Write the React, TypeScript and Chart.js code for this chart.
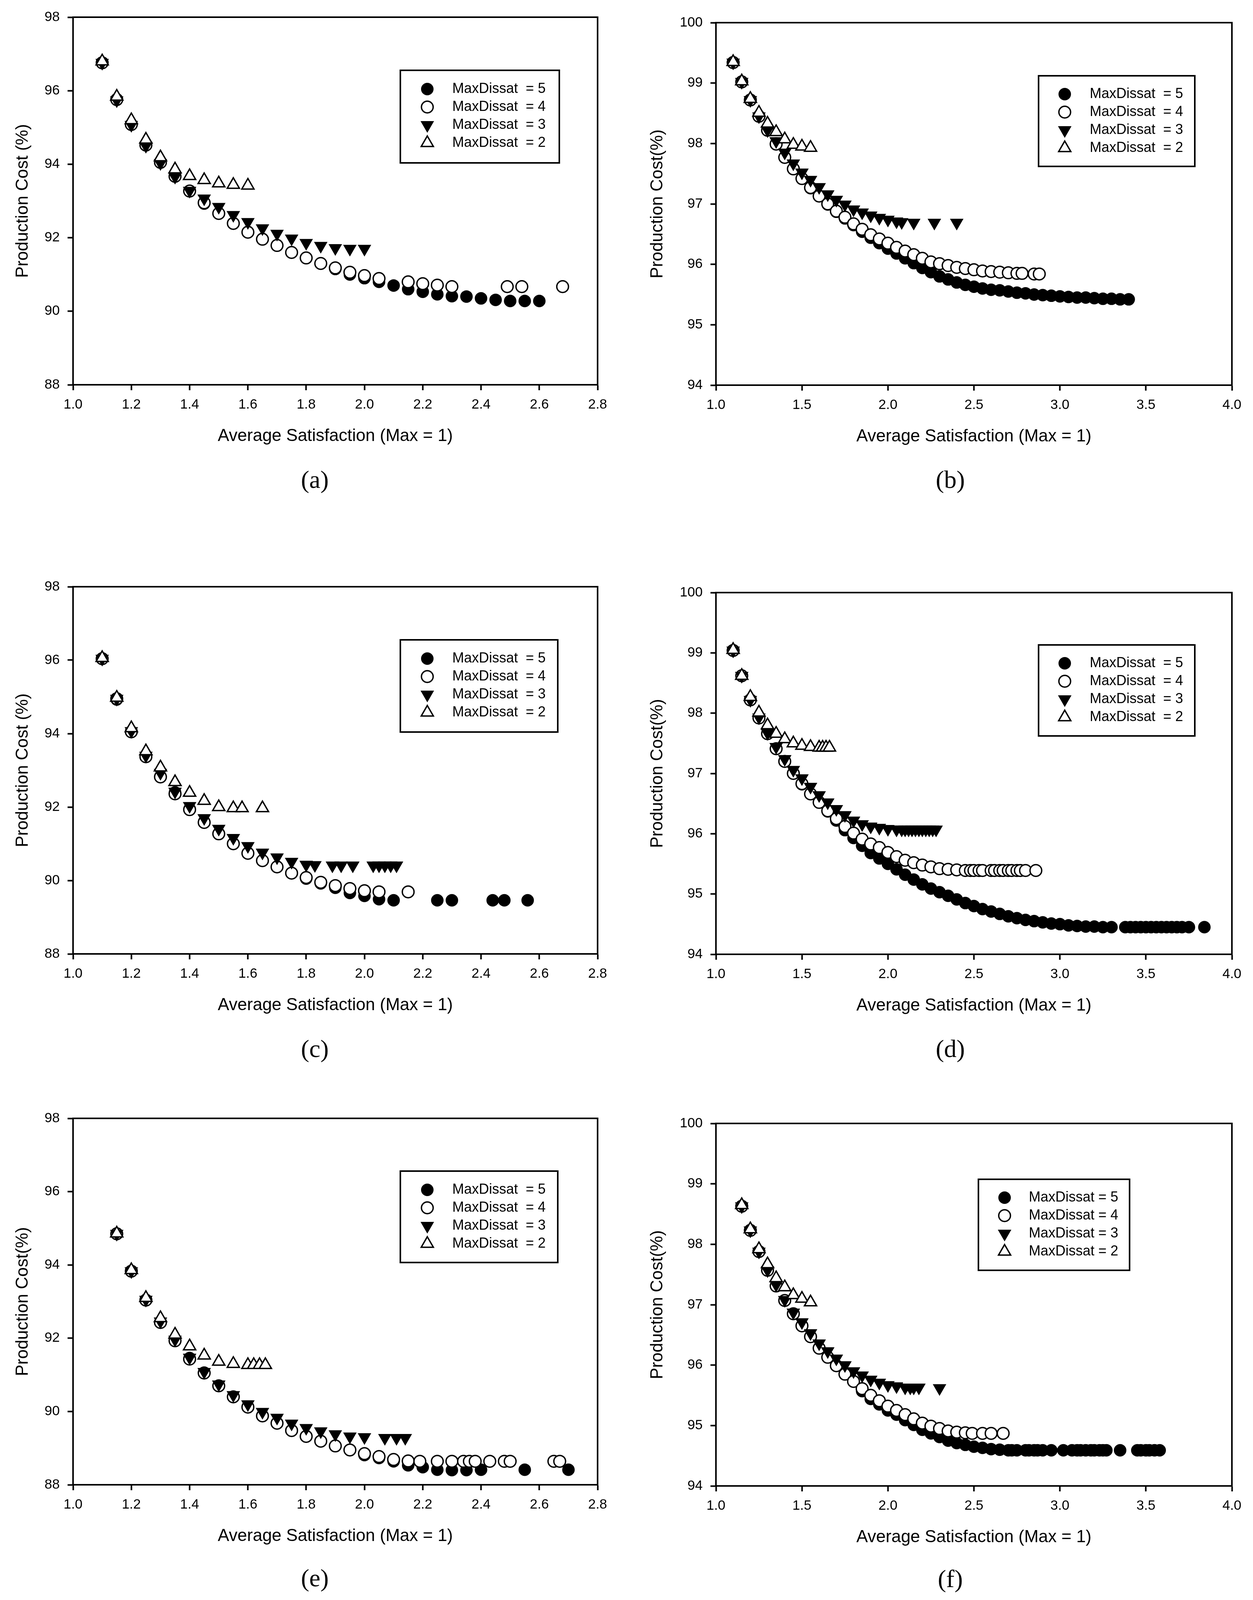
import React, { useEffect, useRef } from 'react';
import { Chart, registerables } from 'chart.js';
import { drawPoint } from 'chart.js/helpers';

Chart.register(...registerables);

// ---------- tick labels ----------
const xTicksNarrow = [1.0, 1.2, 1.4, 1.6, 1.8, 2.0, 2.2, 2.4, 2.6, 2.8];
const yTicksNarrow = [88, 90, 92, 94, 96, 98];
const xTicksWide = [1.0, 1.5, 2.0, 2.5, 3.0, 3.5, 4.0];
const yTicksWide = [94, 95, 96, 97, 98, 99, 100];

const labelsSpaced = ['MaxDissat  = 5', 'MaxDissat  = 4', 'MaxDissat  = 3', 'MaxDissat  = 2'];
const labelsTight = ['MaxDissat = 5', 'MaxDissat = 4', 'MaxDissat = 3', 'MaxDissat = 2'];

// ---------- panel (a) ----------
const a5X = [1.1, 1.15, 1.2, 1.25, 1.3, 1.35, 1.4, 1.45, 1.5, 1.55, 1.6, 1.65, 1.7, 1.75, 1.8, 1.85, 1.9, 1.95, 2.0, 2.05, 2.1, 2.15, 2.2, 2.25, 2.3, 2.35, 2.4, 2.45, 2.5, 2.55, 2.6];
const a5Y = [96.76, 95.76, 95.08, 94.52, 94.05, 93.67, 93.27, 92.93, 92.66, 92.39, 92.16, 91.96, 91.79, 91.6, 91.45, 91.3, 91.15, 91.0, 90.9, 90.8, 90.7, 90.6, 90.53, 90.46, 90.41, 90.4, 90.35, 90.31, 90.28, 90.28, 90.28];
const a4X = [1.1, 1.15, 1.2, 1.25, 1.3, 1.35, 1.4, 1.45, 1.5, 1.55, 1.6, 1.65, 1.7, 1.75, 1.8, 1.85, 1.9, 1.95, 2.0, 2.05, 2.15, 2.2, 2.25, 2.3, 2.49, 2.54, 2.68];
const a4Y = [96.76, 95.76, 95.08, 94.52, 94.05, 93.67, 93.27, 92.95, 92.66, 92.39, 92.15, 91.96, 91.79, 91.6, 91.45, 91.3, 91.18, 91.06, 90.97, 90.89, 90.8, 90.75, 90.71, 90.67, 90.67, 90.67, 90.67];
const a3X = [1.1, 1.15, 1.2, 1.25, 1.3, 1.35, 1.4, 1.45, 1.5, 1.55, 1.6, 1.65, 1.7, 1.75, 1.8, 1.85, 1.9, 1.95, 2.0];
const a3Y = [96.76, 95.74, 95.07, 94.5, 94.03, 93.66, 93.28, 93.07, 92.84, 92.62, 92.43, 92.26, 92.11, 91.98, 91.86, 91.78, 91.72, 91.7, 91.7];
const a2X = [1.1, 1.15, 1.2, 1.25, 1.3, 1.35, 1.4, 1.45, 1.5, 1.55, 1.6];
const a2Y = [96.8, 95.84, 95.2, 94.67, 94.19, 93.86, 93.68, 93.57, 93.48, 93.44, 93.42];

// ---------- panel (b) ----------
const b5X = [1.1, 1.15, 1.2, 1.25, 1.3, 1.35, 1.4, 1.45, 1.5, 1.55, 1.6, 1.65, 1.7, 1.75, 1.8, 1.85, 1.9, 1.95, 2.0, 2.05, 2.1, 2.15, 2.2, 2.25, 2.3, 2.35, 2.4, 2.45, 2.5, 2.55, 2.6, 2.65, 2.7, 2.75, 2.8, 2.85, 2.9, 2.95, 3.0, 3.05, 3.1, 3.15, 3.2, 3.25, 3.3, 3.35, 3.4];
const b5Y = [99.34, 99.02, 98.72, 98.45, 98.22, 98.0, 97.77, 97.58, 97.42, 97.26, 97.13, 96.99, 96.87, 96.76, 96.65, 96.54, 96.44, 96.35, 96.26, 96.18, 96.1, 96.02, 95.94, 95.87, 95.8, 95.75, 95.7, 95.66, 95.63, 95.6, 95.58, 95.57, 95.55, 95.53, 95.52, 95.5, 95.49, 95.48, 95.47, 95.46, 95.45, 95.45, 95.44, 95.43, 95.43, 95.42, 95.42];
const b4X = [1.1, 1.15, 1.2, 1.25, 1.3, 1.35, 1.4, 1.45, 1.5, 1.55, 1.6, 1.65, 1.7, 1.75, 1.8, 1.85, 1.9, 1.95, 2.0, 2.05, 2.1, 2.15, 2.2, 2.25, 2.3, 2.35, 2.4, 2.45, 2.5, 2.55, 2.6, 2.65, 2.7, 2.75, 2.78, 2.85, 2.88];
const b4Y = [99.34, 99.02, 98.72, 98.45, 98.22, 97.99, 97.77, 97.58, 97.42, 97.27, 97.13, 97.0, 96.88, 96.78, 96.67, 96.58, 96.49, 96.42, 96.35, 96.28, 96.22, 96.16, 96.1, 96.04, 96.01, 95.98, 95.95, 95.93, 95.91, 95.89, 95.88, 95.87, 95.86, 95.85, 95.85, 95.84, 95.84];
const b3X = [1.1, 1.15, 1.2, 1.25, 1.3, 1.35, 1.4, 1.45, 1.5, 1.55, 1.6, 1.65, 1.7, 1.75, 1.8, 1.85, 1.9, 1.95, 2.0, 2.05, 2.08, 2.15, 2.27, 2.4];
const b3Y = [99.34, 99.02, 98.72, 98.45, 98.22, 98.04, 97.85, 97.67, 97.52, 97.4, 97.28, 97.16, 97.07, 96.99, 96.91, 96.86, 96.81, 96.77, 96.74, 96.71, 96.7, 96.69, 96.69, 96.69];
const b2X = [1.1, 1.15, 1.2, 1.25, 1.3, 1.35, 1.4, 1.45, 1.5, 1.55];
const b2Y = [99.35, 99.03, 98.74, 98.51, 98.33, 98.19, 98.07, 97.98, 97.95, 97.93];

// ---------- panel (c) ----------
const c5X = [1.1, 1.15, 1.2, 1.25, 1.3, 1.35, 1.4, 1.45, 1.5, 1.55, 1.6, 1.65, 1.7, 1.75, 1.8, 1.85, 1.9, 1.95, 2.0, 2.05, 2.1, 2.25, 2.3, 2.44, 2.48, 2.56];
const c5Y = [96.04, 94.93, 94.05, 93.37, 92.83, 92.4, 91.95, 91.6, 91.28, 91.0, 90.75, 90.54, 90.37, 90.2, 90.05, 89.92, 89.8, 89.66, 89.58, 89.49, 89.46, 89.46, 89.46, 89.46, 89.46, 89.46];
const c4X = [1.1, 1.15, 1.2, 1.25, 1.3, 1.35, 1.4, 1.45, 1.5, 1.55, 1.6, 1.65, 1.7, 1.75, 1.8, 1.85, 1.9, 1.95, 2.0, 2.05, 2.15];
const c4Y = [96.04, 94.95, 94.05, 93.37, 92.82, 92.36, 91.93, 91.58, 91.27, 91.0, 90.74, 90.54, 90.37, 90.2, 90.08, 89.95, 89.86, 89.78, 89.72, 89.69, 89.69];
const c3X = [1.1, 1.15, 1.2, 1.25, 1.3, 1.35, 1.4, 1.45, 1.5, 1.55, 1.6, 1.65, 1.7, 1.75, 1.8, 1.83, 1.89, 1.92, 1.96, 2.03, 2.05, 2.07, 2.09, 2.11];
const c3Y = [96.04, 94.95, 94.07, 93.4, 92.93, 92.42, 92.03, 91.7, 91.41, 91.16, 90.94, 90.76, 90.63, 90.51, 90.43, 90.42, 90.41, 90.41, 90.41, 90.41, 90.41, 90.41, 90.41, 90.41];
const c2X = [1.1, 1.15, 1.2, 1.25, 1.3, 1.35, 1.4, 1.45, 1.5, 1.55, 1.58, 1.65];
const c2Y = [96.06, 94.98, 94.15, 93.52, 93.08, 92.68, 92.39, 92.17, 92.0, 91.97, 91.97, 91.97];

// ---------- panel (d) ----------
const d5X = [1.1, 1.15, 1.2, 1.25, 1.3, 1.35, 1.4, 1.45, 1.5, 1.55, 1.6, 1.65, 1.7, 1.75, 1.8, 1.85, 1.9, 1.95, 2.0, 2.05, 2.1, 2.15, 2.2, 2.25, 2.3, 2.35, 2.4, 2.45, 2.5, 2.55, 2.6, 2.65, 2.7, 2.75, 2.8, 2.85, 2.9, 2.95, 3.0, 3.05, 3.1, 3.15, 3.2, 3.25, 3.3, 3.38, 3.41, 3.44, 3.47, 3.5, 3.53, 3.56, 3.59, 3.62, 3.65, 3.68, 3.71, 3.75, 3.84];
const d5Y = [99.04, 98.62, 98.22, 97.92, 97.66, 97.41, 97.2, 97.0, 96.82, 96.66, 96.52, 96.37, 96.22, 96.06, 95.93, 95.8, 95.68, 95.59, 95.5, 95.41, 95.32, 95.24, 95.16, 95.09, 95.03, 94.97, 94.91, 94.85, 94.8, 94.75, 94.71, 94.67, 94.63, 94.6, 94.57, 94.55, 94.53, 94.51, 94.5, 94.48, 94.47, 94.46, 94.46, 94.45, 94.45, 94.45, 94.45, 94.45, 94.45, 94.45, 94.45, 94.45, 94.45, 94.45, 94.45, 94.45, 94.45, 94.45, 94.45];
const d4X = [1.1, 1.15, 1.2, 1.25, 1.3, 1.35, 1.4, 1.45, 1.5, 1.55, 1.6, 1.65, 1.7, 1.75, 1.8, 1.85, 1.9, 1.95, 2.0, 2.05, 2.1, 2.15, 2.2, 2.25, 2.3, 2.35, 2.4, 2.45, 2.48, 2.5, 2.53, 2.55, 2.6, 2.62, 2.65, 2.67, 2.7, 2.72, 2.75, 2.77, 2.8, 2.86];
const d4Y = [99.04, 98.62, 98.22, 97.92, 97.66, 97.41, 97.2, 97.0, 96.83, 96.66, 96.52, 96.38, 96.25, 96.12, 96.01, 95.91, 95.83, 95.77, 95.69, 95.62, 95.56, 95.52, 95.48, 95.45, 95.42, 95.41, 95.4, 95.39, 95.39, 95.39, 95.39, 95.39, 95.39, 95.39, 95.39, 95.39, 95.39, 95.39, 95.39, 95.39, 95.39, 95.39];
const d3X = [1.1, 1.15, 1.2, 1.25, 1.3, 1.35, 1.4, 1.45, 1.5, 1.55, 1.6, 1.65, 1.7, 1.75, 1.8, 1.85, 1.9, 1.95, 2.0, 2.05, 2.08, 2.1, 2.12, 2.14, 2.16, 2.18, 2.2, 2.22, 2.24, 2.26, 2.28];
const d3Y = [99.04, 98.62, 98.22, 97.93, 97.67, 97.44, 97.24, 97.06, 96.92, 96.78, 96.64, 96.52, 96.41, 96.31, 96.22, 96.16, 96.12, 96.1, 96.08, 96.07, 96.07, 96.07, 96.07, 96.07, 96.07, 96.07, 96.07, 96.07, 96.07, 96.07, 96.07];
const d2X = [1.1, 1.15, 1.2, 1.25, 1.3, 1.35, 1.4, 1.45, 1.5, 1.55, 1.6, 1.62, 1.64, 1.66];
const d2Y = [99.05, 98.62, 98.27, 98.01, 97.8, 97.66, 97.57, 97.5, 97.46, 97.44, 97.43, 97.43, 97.43, 97.43];

// ---------- panel (e) ----------
const e5X = [1.15, 1.2, 1.25, 1.3, 1.35, 1.4, 1.45, 1.5, 1.55, 1.6, 1.65, 1.7, 1.75, 1.8, 1.85, 1.9, 1.95, 2.0, 2.05, 2.1, 2.15, 2.2, 2.25, 2.3, 2.35, 2.4, 2.55, 2.7];
const e5Y = [94.85, 93.83, 93.04, 92.43, 91.93, 91.46, 91.06, 90.7, 90.4, 90.12, 89.88, 89.68, 89.48, 89.32, 89.19, 89.06, 88.95, 88.81, 88.73, 88.64, 88.53, 88.48, 88.41, 88.4, 88.4, 88.41, 88.41, 88.41];
const e4X = [1.15, 1.2, 1.25, 1.3, 1.35, 1.4, 1.45, 1.5, 1.55, 1.6, 1.65, 1.7, 1.75, 1.8, 1.85, 1.9, 1.95, 2.0, 2.05, 2.1, 2.15, 2.19, 2.25, 2.3, 2.34, 2.36, 2.38, 2.43, 2.48, 2.5, 2.65, 2.67];
const e4Y = [94.85, 93.83, 93.04, 92.43, 91.93, 91.43, 91.05, 90.7, 90.4, 90.12, 89.88, 89.68, 89.48, 89.32, 89.19, 89.06, 88.95, 88.85, 88.77, 88.69, 88.65, 88.64, 88.64, 88.64, 88.64, 88.64, 88.64, 88.64, 88.64, 88.64, 88.64, 88.64];
const e3X = [1.15, 1.2, 1.25, 1.3, 1.35, 1.4, 1.45, 1.5, 1.55, 1.6, 1.65, 1.7, 1.75, 1.8, 1.85, 1.9, 1.95, 2.0, 2.07, 2.11, 2.14];
const e3Y = [94.85, 93.83, 93.05, 92.46, 91.96, 91.47, 91.08, 90.74, 90.45, 90.2, 89.99, 89.83, 89.67, 89.55, 89.46, 89.38, 89.32, 89.3, 89.28, 89.28, 89.28];
const e2X = [1.15, 1.2, 1.25, 1.3, 1.35, 1.4, 1.45, 1.5, 1.55, 1.6, 1.62, 1.64, 1.66];
const e2Y = [94.86, 93.86, 93.1, 92.55, 92.1, 91.78, 91.53, 91.36, 91.3, 91.27, 91.27, 91.27, 91.27];

// ---------- panel (f) ----------
const f5X = [1.15, 1.2, 1.25, 1.3, 1.35, 1.4, 1.45, 1.5, 1.55, 1.6, 1.65, 1.7, 1.75, 1.8, 1.85, 1.9, 1.95, 2.0, 2.05, 2.1, 2.15, 2.2, 2.25, 2.3, 2.35, 2.4, 2.45, 2.5, 2.55, 2.6, 2.65, 2.7, 2.72, 2.75, 2.8, 2.82, 2.85, 2.87, 2.9, 2.95, 3.02, 3.07, 3.1, 3.12, 3.15, 3.18, 3.2, 3.23, 3.25, 3.27, 3.35, 3.45, 3.47, 3.5, 3.52, 3.55, 3.58];
const f5Y = [98.63, 98.23, 97.88, 97.57, 97.31, 97.07, 96.85, 96.65, 96.47, 96.28, 96.13, 95.99, 95.85, 95.73, 95.57, 95.44, 95.35, 95.25, 95.18, 95.09, 95.01, 94.93, 94.87, 94.81, 94.75, 94.71, 94.68, 94.65, 94.63, 94.61, 94.6, 94.59, 94.59, 94.59, 94.59, 94.59, 94.59, 94.59, 94.59, 94.59, 94.59, 94.59, 94.59, 94.59, 94.59, 94.59, 94.59, 94.59, 94.59, 94.59, 94.59, 94.59, 94.59, 94.59, 94.59, 94.59, 94.59];
const f4X = [1.15, 1.2, 1.25, 1.3, 1.35, 1.4, 1.45, 1.5, 1.55, 1.6, 1.65, 1.7, 1.75, 1.8, 1.85, 1.9, 1.95, 2.0, 2.05, 2.1, 2.15, 2.2, 2.25, 2.3, 2.35, 2.4, 2.45, 2.49, 2.55, 2.6, 2.67];
const f4Y = [98.63, 98.23, 97.88, 97.57, 97.31, 97.07, 96.85, 96.65, 96.47, 96.28, 96.13, 95.99, 95.85, 95.73, 95.61, 95.5, 95.41, 95.32, 95.25, 95.18, 95.11, 95.04, 94.99, 94.95, 94.91, 94.89, 94.88, 94.87, 94.87, 94.87, 94.87];
const f3X = [1.15, 1.2, 1.25, 1.3, 1.35, 1.4, 1.45, 1.5, 1.55, 1.6, 1.65, 1.7, 1.75, 1.8, 1.85, 1.9, 1.95, 2.0, 2.05, 2.1, 2.13, 2.15, 2.18, 2.3];
const f3Y = [98.63, 98.23, 97.88, 97.57, 97.33, 97.08, 96.87, 96.71, 96.53, 96.36, 96.23, 96.11, 96.0, 95.9, 95.83, 95.76, 95.71, 95.67, 95.65, 95.63, 95.63, 95.63, 95.63, 95.62];
const f2X = [1.15, 1.2, 1.25, 1.3, 1.35, 1.4, 1.45, 1.5, 1.55];
const f2Y = [98.65, 98.25, 97.92, 97.67, 97.44, 97.29, 97.16, 97.1, 97.04];

// ---------- styles ----------
const FONT = "'Liberation Sans', Arial, Helvetica, sans-serif";
const CANVAS_W = 1604;
const CANVAS_H = 1180;

const SERIES_STYLE = [
  { pointStyle: 'circle', pointRotation: 0, pointRadius: 15, pointBackgroundColor: '#000', pointBorderColor: '#000', pointBorderWidth: 2, order: 4 },
  { pointStyle: 'circle', pointRotation: 0, pointRadius: 15, pointBackgroundColor: '#fff', pointBorderColor: '#000', pointBorderWidth: 3.5, order: 3 },
  { pointStyle: 'triangle', pointRotation: 180, pointRadius: 18, pointBackgroundColor: '#000', pointBorderColor: '#000', pointBorderWidth: 2, order: 2 },
  { pointStyle: 'triangle', pointRotation: 0, pointRadius: 18, pointBackgroundColor: '#fff', pointBorderColor: '#000', pointBorderWidth: 3.5, order: 1 },
];

const narrow = { xTicks: xTicksNarrow, yTicks: yTicksNarrow, xMin: 1.0, xMax: 2.8, yMin: 88, yMax: 98 };
const wide = { xTicks: xTicksWide, yTicks: yTicksWide, xMin: 1.0, xMax: 4.0, yMin: 94, yMax: 100 };

const PANELS = [
  { id: 'a', left: 0, top: 0, L: 187, T: 44, R: 1530, B: 985, yTitleX: 59, ...narrow, yTitle: 'Production Cost (%)', labels: labelsSpaced,
    series: [[a5X, a5Y], [a4X, a4Y], [a3X, a3Y], [a2X, a2Y]],
    legend: { left: 838, top: 136, width: 407, height: 237, markerX: 69, textX: 133, firstRow: 48, rowGap: 46 },
    tag: { x: 806, y: 1228 } },
  { id: 'b', left: 1604, top: 0, L: 229, T: 58, R: 1550, B: 986, yTitleX: 80, ...wide, yTitle: 'Production Cost(%)', labels: labelsSpaced,
    series: [[b5X, b5Y], [b4X, b4Y], [b3X, b3Y], [b2X, b2Y]],
    legend: { left: 826, top: 136, width: 400, height: 232, markerX: 67, textX: 131, firstRow: 47, rowGap: 46 },
    tag: { x: 2433, y: 1228 } },
  { id: 'c', left: 0, top: 1450, L: 187, T: 52, R: 1530, B: 992, yTitleX: 59, ...narrow, yTitle: 'Production Cost (%)', labels: labelsSpaced,
    series: [[c5X, c5Y], [c4X, c4Y], [c3X, c3Y], [c2X, c2Y]],
    legend: { left: 838, top: 136, width: 403, height: 236, markerX: 69, textX: 133, firstRow: 48, rowGap: 46 },
    tag: { x: 806, y: 2685 } },
  { id: 'd', left: 1604, top: 1450, L: 229, T: 67, R: 1550, B: 993, yTitleX: 80, ...wide, yTitle: 'Production Cost(%)', labels: labelsSpaced,
    series: [[d5X, d5Y], [d4X, d4Y], [d3X, d3Y], [d2X, d2Y]],
    legend: { left: 826, top: 134, width: 400, height: 233, markerX: 67, textX: 131, firstRow: 47, rowGap: 46 },
    tag: { x: 2433, y: 2685 } },
  { id: 'e', left: 0, top: 2800, L: 187, T: 63, R: 1530, B: 1001, yTitleX: 59, ...narrow, yTitle: 'Production Cost(%)', labels: labelsSpaced,
    series: [[e5X, e5Y], [e4X, e4Y], [e3X, e3Y], [e2X, e2Y]],
    legend: { left: 838, top: 135, width: 403, height: 234, markerX: 69, textX: 133, firstRow: 48, rowGap: 46 },
    tag: { x: 806, y: 4040 } },
  { id: 'f', left: 1604, top: 2800, L: 229, T: 76, R: 1550, B: 1004, yTitleX: 80, ...wide, yTitle: 'Production Cost(%)', labels: labelsTight,
    series: [[f5X, f5Y], [f4X, f4Y], [f3X, f3Y], [f2X, f2Y]],
    legend: { left: 672, top: 143, width: 387, height: 233, markerX: 67, textX: 129, firstRow: 47, rowGap: 46 },
    tag: { x: 2433, y: 4042 } },
];

// frame around the plot area
const framePlugin = {
  id: 'plotFrame',
  afterDraw(chart: any) {
    const { ctx, chartArea } = chart;
    ctx.save();
    ctx.strokeStyle = '#000';
    ctx.lineWidth = 4;
    ctx.strokeRect(chartArea.left, chartArea.top, chartArea.right - chartArea.left, chartArea.bottom - chartArea.top);
    ctx.restore();
  },
};

// boxed legend inside the plot area
const boxLegendPlugin = {
  id: 'boxLegend',
  afterDraw(chart: any, _args: any, opts: any) {
    if (!opts || opts.width == null) return;
    const { ctx, chartArea } = chart;
    const x0 = chartArea.left + opts.left;
    const y0 = chartArea.top + opts.top;
    ctx.save();
    ctx.fillStyle = '#fff';
    ctx.fillRect(x0, y0, opts.width, opts.height);
    ctx.strokeStyle = '#000';
    ctx.lineWidth = 4;
    ctx.strokeRect(x0, y0, opts.width, opts.height);
    chart.data.datasets.forEach((ds: any, i: number) => {
      const cy = y0 + opts.firstRow + i * opts.rowGap;
      ctx.fillStyle = ds.pointBackgroundColor;
      ctx.strokeStyle = ds.pointBorderColor;
      ctx.lineWidth = ds.pointBorderWidth;
      drawPoint(ctx, { pointStyle: ds.pointStyle, rotation: ds.pointRotation, radius: ds.pointRadius, borderWidth: ds.pointBorderWidth } as any, x0 + opts.markerX, cy);
      ctx.fillStyle = '#000';
      ctx.font = `36px ${FONT}`;
      ctx.textAlign = 'left';
      ctx.textBaseline = 'middle';
      ctx.fillText(ds.label, x0 + opts.textX, cy);
    });
    ctx.restore();
  },
};

function Panel({ cfg }: { cfg: any }) {
  const ref = useRef<HTMLCanvasElement>(null);
  useEffect(() => {
    if (!ref.current) return;
    const datasets = cfg.series.map((s: number[][], i: number) => ({
      label: cfg.labels[i],
      data: s[0].map((x: number, j: number) => ({ x, y: s[1][j] })),
      showLine: false,
      ...SERIES_STYLE[i],
    }));
    const xTitleLine = 44 * 1.2;
    const xTitleCenter = cfg.B + 132;
    const chart = new Chart(ref.current, {
      type: 'scatter',
      data: { datasets },
      plugins: [framePlugin, boxLegendPlugin],
      options: {
        responsive: false,
        animation: false,
        devicePixelRatio: 1,
        events: [],
        layout: { padding: { top: cfg.T, left: 0, right: CANVAS_W - cfg.R, bottom: 0 } },
        plugins: {
          legend: { display: false },
          tooltip: { enabled: false },
          boxLegend: cfg.legend,
        } as any,
        scales: {
          x: {
            type: 'linear',
            position: 'bottom',
            min: cfg.xMin,
            max: cfg.xMax,
            afterFit: (s: any) => { s.height = CANVAS_H - cfg.B; },
            afterBuildTicks: (s: any) => { s.ticks = cfg.xTicks.map((v: number) => ({ value: v })); },
            ticks: {
              autoSkip: false, maxRotation: 0, minRotation: 0, padding: 16, color: '#000',
              font: { family: FONT, size: 35 },
              callback: (v: any) => Number(v).toFixed(1),
            },
            grid: { display: true, drawOnChartArea: false, drawTicks: true, tickLength: 14, tickWidth: 4, tickColor: '#000' },
            border: { display: true, color: '#000', width: 4 },
            title: {
              display: true, text: 'Average Satisfaction (Max = 1)', color: '#000',
              font: { family: FONT, size: 44 },
              padding: { top: 0, bottom: CANVAS_H - xTitleCenter - xTitleLine / 2 },
            },
          },
          y: {
            type: 'linear',
            position: 'left',
            min: cfg.yMin,
            max: cfg.yMax,
            afterFit: (s: any) => { s.width = cfg.L; },
            afterBuildTicks: (s: any) => { s.ticks = cfg.yTicks.map((v: number) => ({ value: v })); },
            ticks: {
              autoSkip: false, padding: 20, color: '#000',
              font: { family: FONT, size: 35 },
              callback: (v: any) => String(Math.round(Number(v))),
            },
            grid: { display: true, drawOnChartArea: false, drawTicks: true, tickLength: 14, tickWidth: 4, tickColor: '#000' },
            border: { display: true, color: '#000', width: 4 },
            title: {
              display: true, text: cfg.yTitle, color: '#000',
              font: { family: FONT, size: 44 },
              padding: { top: cfg.yTitleX - 44 * 1.2 / 2, bottom: 0 },
            },
          },
        },
      } as any,
    });
    return () => chart.destroy();
  }, []);
  return (
    <canvas
      ref={ref}
      width={CANVAS_W}
      height={CANVAS_H}
      style={{ position: 'absolute', left: cfg.left, top: cfg.top, width: CANVAS_W, height: CANVAS_H }}
    />
  );
}

export default function App() {
  return (
    <div style={{ position: 'absolute', left: 0, top: 0, width: 3208, height: 4119, background: '#fff', overflow: 'hidden' }}>
      {PANELS.map((p) => (
        <Panel key={p.id} cfg={p} />
      ))}
      {PANELS.map((p) => (
        <div
          key={'tag-' + p.id}
          style={{
            position: 'absolute', left: p.tag.x, top: p.tag.y, transform: 'translate(-50%, -50%)',
            fontFamily: "'Liberation Serif', 'DejaVu Serif', serif", fontSize: 64, color: '#000', lineHeight: 1, whiteSpace: 'nowrap',
          }}
        >
          ({p.id})
        </div>
      ))}
    </div>
  );
}
